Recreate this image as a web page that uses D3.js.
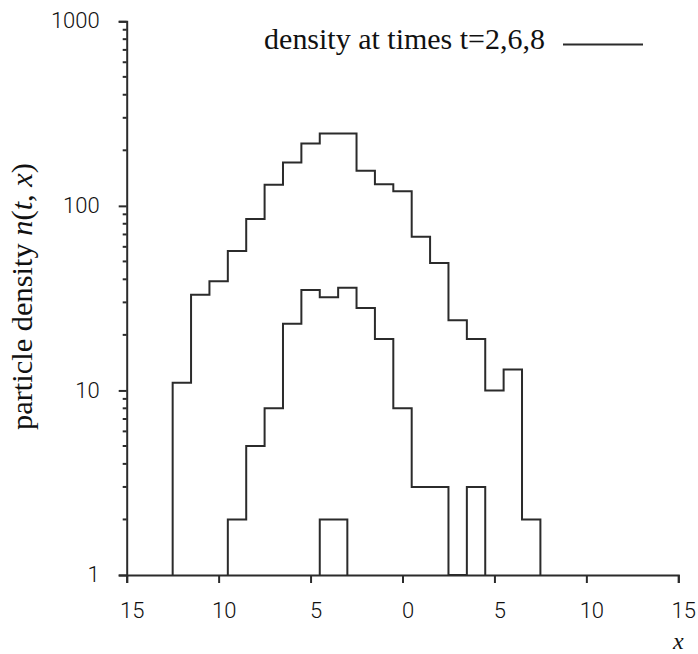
<!DOCTYPE html>
<html>
<head>
<meta charset="utf-8">
<script src="https://cdn.jsdelivr.net/npm/d3@7"></script>
<style>
  body { margin: 0; background: #fff; }
  svg { display: block; }
</style>
</head>
<body>
<svg id="chart" width="698" height="654"></svg>
<script>
// Axis ticks and their labels
const xTicks = [-15, -10, -5, 0, 5, 10, 15];
const xTickLabels = ["15", "10", "5", "0", "5", "10", "15"];
const yTicks = [1, 10, 100, 1000];
const yTickLabels = ["1", "10", "100", "1000"];

// Histogram at t = 8: bin edges and particle counts per bin
const edgesT8 = [-12.5, -11.5, -10.5, -9.5, -8.5, -7.5, -6.5, -5.5, -4.5, -3.5, -2.5,
                 -1.5, -0.5, 0.5, 1.5, 2.5, 3.5, 4.5, 5.5, 6.5, 7.5];
const densityT8 = [11, 33, 39, 57, 85, 130, 172, 218, 247, 247,
                   155, 131, 120, 68, 49, 24, 19, 10, 13, 2];

// Histogram at t = 6
const edgesT6 = [-9.5, -8.5, -7.5, -6.5, -5.5, -4.5, -3.5, -2.5, -1.5, -0.5,
                 0.5, 1.5, 2.5, 3.5, 4.5];
const densityT6 = [2, 5, 8, 23, 35, 32, 36, 28, 19, 8, 3, 3, 0, 3];

// Histogram at t = 2
const edgesT2 = [-4.5, -3.0];
const densityT2 = [2];

const legendLabel = "density at times t=2,6,8";

const svg = d3.select("#chart");
const ink = "#2b2b2b";

const x = d3.scaleLinear().domain([-15, 15]).range([126.7, 678.3]);
const y = d3.scaleLog().domain([1, 1000]).range([575, 21.3]);

// x axis
const gx = svg.append("g")
  .attr("transform", `translate(0,${y(1)})`)
  .call(d3.axisBottom(x)
    .tickValues(xTicks)
    .tickFormat((d, i) => xTickLabels[i])
    .tickSize(8)
    .tickSizeOuter(8));

// y axis
const gy = svg.append("g")
  .attr("transform", `translate(${x(-15)},0)`)
  .call(d3.axisLeft(y)
    .tickValues(yTicks)
    .tickFormat((d, i) => yTickLabels[i])
    .tickSize(8)
    .tickSizeOuter(8));

[gx, gy].forEach(g => {
  g.attr("font-family", null).attr("font-size", null);
  g.selectAll("path.domain, .tick line")
    .attr("stroke", ink).attr("stroke-width", 2);
  g.selectAll("text")
    .attr("fill", "#111")
    .style("font-family", "Roboto, 'DejaVu Sans', sans-serif")
    .style("font-weight", "300")
    .style("font-size", "22px");
});

gx.selectAll(".tick text").attr("y", 35).attr("dy", "0.36em").attr("x", 5);
gy.selectAll(".tick text").attr("x", -27).attr("dy", "0.3em");

// minor log ticks on the y axis
const minor = [];
[1, 10, 100].forEach(dec => { for (let k = 2; k <= 9; k++) minor.push(dec * k); });
svg.append("g")
  .selectAll("line")
  .data(minor)
  .join("line")
  .attr("x1", x(-15) - 4).attr("x2", x(-15))
  .attr("y1", d => y(d)).attr("y2", d => y(d))
  .attr("stroke", ink).attr("stroke-width", 2);

// step outline of a histogram, starting and ending on the baseline
function stepPath(edges, counts) {
  const lv = c => y(Math.max(c, 1));
  const p = d3.path();
  p.moveTo(x(edges[0]), y(1));
  counts.forEach((c, i) => {
    p.lineTo(x(edges[i]), lv(c));
    p.lineTo(x(edges[i + 1]), lv(c));
  });
  p.lineTo(x(edges[edges.length - 1]), y(1));
  return p.toString();
}

const series = [
  { edges: edgesT8, counts: densityT8 },
  { edges: edgesT6, counts: densityT6 },
  { edges: edgesT2, counts: densityT2 }
];

svg.append("g")
  .selectAll("path")
  .data(series)
  .join("path")
  .attr("d", d => stepPath(d.edges, d.counts))
  .attr("fill", "none")
  .attr("stroke", ink)
  .attr("stroke-width", 2)
  .attr("stroke-linejoin", "miter");

// scale a text element so its drawn length matches a target width
function fitWidth(sel, base, target) {
  sel.style("font-size", base + "px");
  const w = sel.node().getComputedTextLength();
  sel.style("font-size", (base * target / w).toFixed(2) + "px");
}

const serif = "'Liberation Serif', 'DejaVu Serif', serif";

// legend
const legText = svg.append("text")
  .attr("x", 545).attr("y", 49)
  .attr("text-anchor", "end")
  .style("font-family", serif)
  .attr("fill", "#111")
  .text(legendLabel);
fitWidth(legText, 24, 281);

svg.append("line")
  .attr("x1", 563).attr("x2", 643)
  .attr("y1", 44.5).attr("y2", 44.5)
  .attr("stroke", ink).attr("stroke-width", 2);

// y axis title
const yTitle = svg.append("text")
  .attr("transform", "translate(32,296.5) rotate(-90)")
  .attr("text-anchor", "middle")
  .style("font-family", serif)
  .attr("fill", "#111");
yTitle.append("tspan").text("particle density ");
yTitle.append("tspan").style("font-style", "italic").text("n");
yTitle.append("tspan").text("(");
yTitle.append("tspan").style("font-style", "italic").text("t");
yTitle.append("tspan").text(", ");
yTitle.append("tspan").style("font-style", "italic").text("x");
yTitle.append("tspan").text(")");
fitWidth(yTitle, 24, 267);

// x axis title
svg.append("text")
  .attr("x", x(15)).attr("y", 649)
  .attr("text-anchor", "middle")
  .style("font-family", serif)
  .style("font-style", "italic")
  .style("font-size", "24px")
  .attr("fill", "#111")
  .text("x");
</script>
</body>
</html>
